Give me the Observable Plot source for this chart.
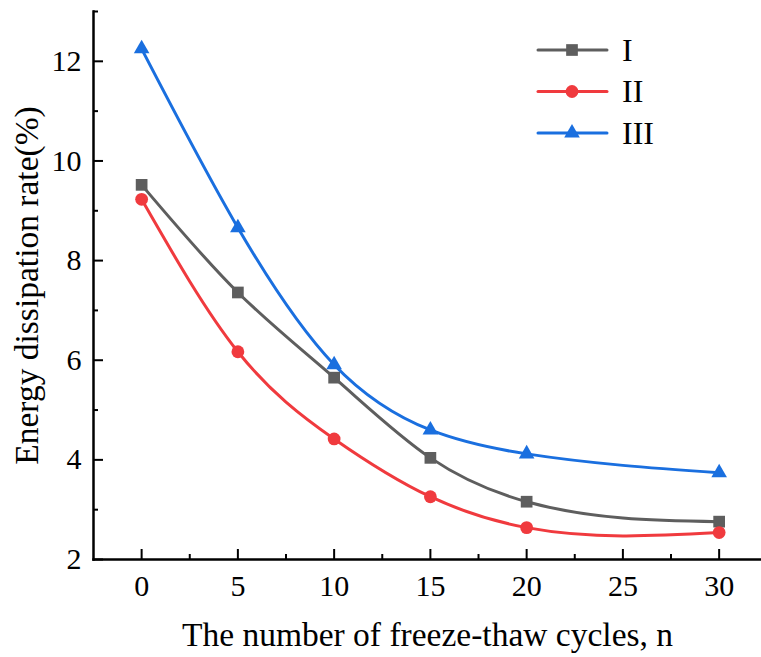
<!DOCTYPE html>
<html>
<head>
<meta charset="utf-8">
<script src="https://cdn.jsdelivr.net/npm/d3@7"></script>
<script src="https://cdn.jsdelivr.net/npm/@observablehq/plot@0.6"></script>
<style>
  html, body { margin: 0; padding: 0; background: #fff; }
  #wrap { position: relative; width: 761px; height: 657px; font-family: "Liberation Serif", "Times New Roman", serif; }
  #legend { position: absolute; left: 530px; top: 28px; }
</style>
</head>
<body>
<div id="wrap"><div id="chart"></div><svg id="legend" width="170" height="130"></svg></div>
<script>
const cycles = [0, 5, 10, 15, 20, 30];
const seriesNames = ["I", "II", "III"];
const valuesI   = [9.52, 7.36, 5.65, 4.04, 3.16, 2.76];
const valuesII  = [9.23, 6.17, 4.42, 3.26, 2.64, 2.54];
const valuesIII = [12.25, 8.66, 5.91, 4.60, 4.12, 3.74];
const colors = ["#5e5e5e", "#f03a3e", "#1a6fdf"];
const symbols = ["square", "circle", "triangle"];
const markerR = [6.6, 6.4, 5.8];
const xMajor = [0, 5, 10, 15, 20, 25, 30];
const xMinor = [2.5, 7.5, 12.5, 17.5, 22.5, 27.5];
const yMajor = [2, 4, 6, 8, 10, 12];
const yMinor = [3, 5, 7, 9, 11, 13];
const xTitle = "The number of freeze-thaw cycles, n";
const yTitle = "Energy dissipation rate(%)";

const allValues = [valuesI, valuesII, valuesIII];
const rows = [];
seriesNames.forEach((s, i) => cycles.forEach((c, j) => rows.push({series: s, n: c, v: allValues[i][j], r: markerR[i]})));

// natural cubic spline y(x) curve (like Origin's "Spline" connection)
function splineXCurve(context) {
  let pts = [];
  return {
    areaStart() {}, areaEnd() {},
    lineStart() { pts = []; },
    point(x, y) { pts.push([+x, +y]); },
    lineEnd() {
      const n = pts.length - 1;
      if (n < 0) return;
      context.moveTo(pts[0][0], pts[0][1]);
      if (n === 0) return;
      if (n === 1) { context.lineTo(pts[1][0], pts[1][1]); return; }
      const X = pts.map(p => p[0]), Y = pts.map(p => p[1]);
      const h = d3.range(n).map(i => X[i + 1] - X[i]);
      const a = [], b = [], c = [], r = [];
      for (let i = 1; i < n; i++) {
        a.push(h[i - 1]); b.push(2 * (h[i - 1] + h[i])); c.push(h[i]);
        r.push(6 * ((Y[i + 1] - Y[i]) / h[i] - (Y[i] - Y[i - 1]) / h[i - 1]));
      }
      const m = r.length;
      for (let i = 1; i < m; i++) {
        const w = a[i] / b[i - 1];
        b[i] -= w * c[i - 1];
        r[i] -= w * r[i - 1];
      }
      const Mi = new Array(m);
      Mi[m - 1] = r[m - 1] / b[m - 1];
      for (let i = m - 2; i >= 0; i--) Mi[i] = (r[i] - c[i] * Mi[i + 1]) / b[i];
      const M = [0, ...Mi, 0];
      const d = [];
      for (let i = 0; i < n; i++) d.push((Y[i + 1] - Y[i]) / h[i] - h[i] * (2 * M[i] + M[i + 1]) / 6);
      d.push((Y[n] - Y[n - 1]) / h[n - 1] + h[n - 1] * (M[n - 1] + 2 * M[n]) / 6);
      for (let i = 0; i < n; i++) {
        const t = h[i] / 3;
        context.bezierCurveTo(X[i] + t, Y[i] + d[i] * t, X[i + 1] - t, Y[i + 1] - d[i + 1] * t, X[i + 1], Y[i + 1]);
      }
    }
  };
}

const W = 761, H = 657, ML = 93, MR = 0, MT = 11, MB = 98;
const frameW = W - ML - MR, frameH = H - MT - MB;
const font = "Liberation Serif";

const chart = Plot.plot({
  width: W, height: H,
  marginLeft: ML, marginRight: MR, marginTop: MT, marginBottom: MB,
  style: "font-family: 'Liberation Serif', serif; background: #fff; overflow: visible;",
  x: {domain: [-2.5, 32.2], axis: null},
  y: {domain: [2, 13], axis: null},
  color: {domain: seriesNames, range: colors},
  symbol: {domain: seriesNames, range: symbols},
  r: {type: "identity"},
  marks: [
    Plot.text(xMajor, {x: d => d, frameAnchor: "bottom", dy: 27, lineAnchor: "middle", textAnchor: "middle", text: d => String(d), fontSize: 30, fontFamily: font, fill: "#000"}),
    Plot.text(yMajor, {y: d => d, frameAnchor: "left", dx: -12, lineAnchor: "middle", textAnchor: "end", text: d => String(d), fontSize: 30, fontFamily: font, fill: "#000"}),
    Plot.tickX(xMajor, {x: d => d, insetTop: frameH - 10, stroke: "#000", strokeWidth: 2}),
    Plot.tickX(xMinor, {x: d => d, insetTop: frameH - 5, stroke: "#000", strokeWidth: 2}),
    Plot.tickY(yMajor, {y: d => d, insetRight: frameW - 10, stroke: "#000", strokeWidth: 2}),
    Plot.tickY(yMinor, {y: d => d, insetRight: frameW - 5, stroke: "#000", strokeWidth: 2}),
    Plot.frame({anchor: "bottom", stroke: "#000", strokeWidth: 2.5}),
    Plot.frame({anchor: "left", stroke: "#000", strokeWidth: 2.5}),
    Plot.line(rows, {x: "n", y: "v", z: "series", stroke: "series", curve: splineXCurve, strokeWidth: 3}),
    Plot.dot(rows, {x: "n", y: "v", fill: "series", symbol: "series", r: "r", stroke: "none"}),
    Plot.text([xTitle], {frameAnchor: "bottom", dy: 76, lineAnchor: "middle", textAnchor: "middle", fontSize: 33.5, fontFamily: font, fill: "#000", text: d => d}),
    Plot.text([yTitle], {frameAnchor: "left", dx: -66, rotate: -90, lineAnchor: "middle", textAnchor: "middle", fontSize: 33.5, fontFamily: font, fill: "#000", text: d => d})
  ]
});
document.getElementById("chart").appendChild(chart);

// legend
const lg = d3.select("#legend");
const rowGap = 41.5;
seriesNames.forEach((s, i) => {
  const g = lg.append("g").attr("transform", `translate(0, ${22 + i * rowGap})`);
  g.append("line").attr("x1", 8).attr("x2", 77).attr("y1", 0).attr("y2", 0)
    .attr("stroke", colors[i]).attr("stroke-width", 3).attr("stroke-linecap", "round");
  const sym = {square: d3.symbolSquare, circle: d3.symbolCircle, triangle: d3.symbolTriangle}[symbols[i]];
  g.append("path").attr("transform", "translate(42,0)")
    .attr("d", d3.symbol(sym, Math.PI * markerR[i] * markerR[i])())
    .attr("fill", colors[i]);
  g.append("text").attr("x", 92).attr("y", 0).attr("dy", "0.34em")
    .attr("font-size", 32).attr("font-family", font).attr("fill", "#000").text(s);
});
</script>
</body>
</html>
